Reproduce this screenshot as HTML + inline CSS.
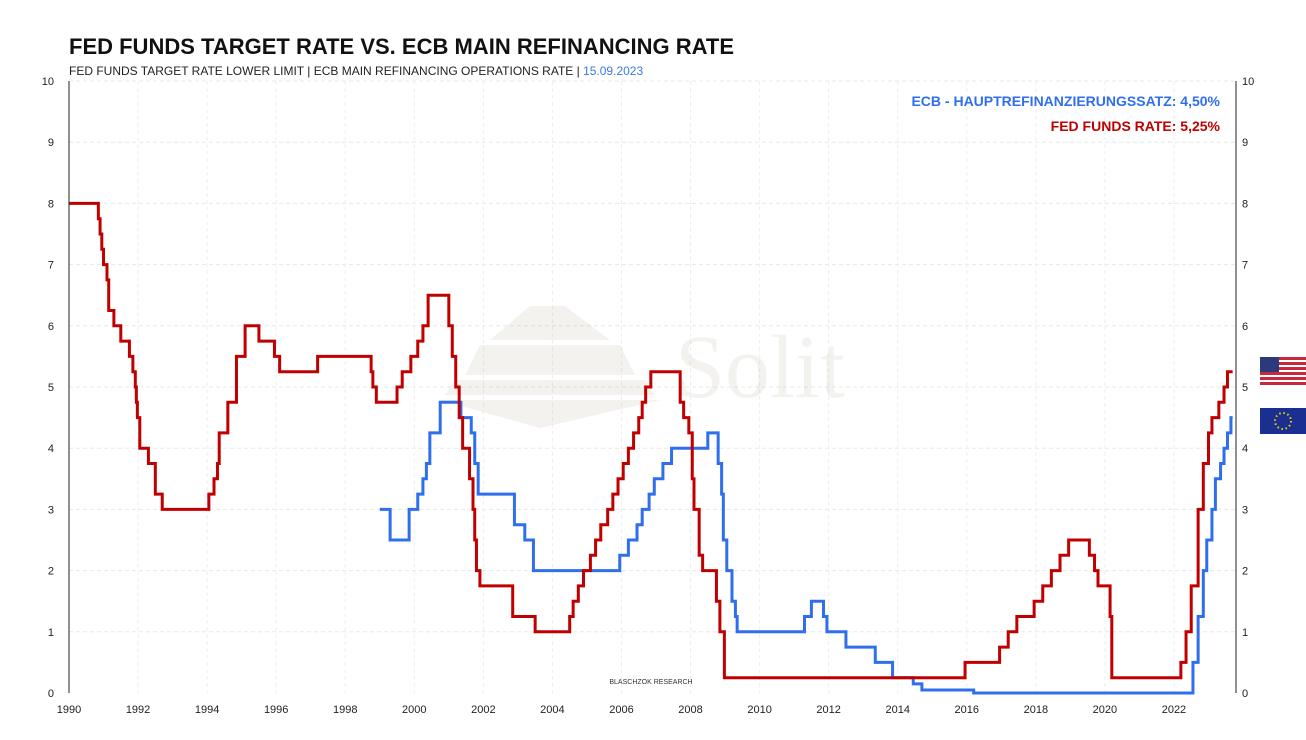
<!DOCTYPE html>
<html><head><meta charset="utf-8"><style>
body{margin:0;background:#fff;width:1306px;height:735px;overflow:hidden;font-family:"Liberation Sans",sans-serif}
</style></head><body>
<svg id="s" width="1306" height="735" xmlns="http://www.w3.org/2000/svg" font-family="Liberation Sans, sans-serif">
<text x="69" y="54" font-size="22" font-weight="bold" fill="#111" textLength="665" lengthAdjust="spacingAndGlyphs">FED FUNDS TARGET RATE  VS.  ECB MAIN REFINANCING RATE</text>
<text x="69" y="75" font-size="12" fill="#222">FED FUNDS TARGET RATE LOWER LIMIT | ECB MAIN REFINANCING OPERATIONS RATE | <tspan fill="#3a7be0">15.09.2023</tspan></text>
<g id="grid"></g>
<g opacity="0.09" fill="#8a7a50">
<polygon points="530,306 565,306 610,340 490,340"/>
<polygon points="480,345 620,345 635,375 465,375"/>
<polygon points="455,380 645,380 655,395 445,395"/>
<polygon points="440,400 660,400 540,428"/>
<text x="675" y="397" font-family="Liberation Serif, serif" font-size="90">Solit</text>
</g>
<text x="1220" y="106" font-size="14" font-weight="bold" fill="#2f6fee" text-anchor="end">ECB - HAUPTREFINANZIERUNGSSATZ: 4,50%</text>
<text x="1220" y="131" font-size="14" font-weight="bold" fill="#c00000" text-anchor="end">FED FUNDS RATE: 5,25%</text>
<text x="651" y="684" font-size="7" fill="#333" text-anchor="middle">BLASCHZOK   RESEARCH</text>
<path id="ecb" fill="none" stroke="#2f6fee" stroke-width="3"/>
<path id="fed" fill="none" stroke="#c00000" stroke-width="3"/>
<line x1="69" y1="81" x2="69" y2="693" stroke="#222"/>
<line x1="1236" y1="81" x2="1236" y2="693" stroke="#222"/>
<g>
<rect x="1260" y="357" width="46" height="28" fill="#fff"/>
<g fill="#c8283c"><rect x="1260" y="357" width="46" height="3"/><rect x="1260" y="362" width="46" height="3"/><rect x="1260" y="367" width="46" height="3"/><rect x="1260" y="372" width="46" height="3"/><rect x="1260" y="377" width="46" height="3"/><rect x="1260" y="382" width="46" height="3"/></g>
<rect x="1260" y="357" width="19" height="15" fill="#2a3a7a"/>
<rect x="1260" y="408" width="46" height="26" fill="#1a2f8f"/>
<circle cx="1283" cy="421" r="8" fill="none" stroke="#f5d000" stroke-width="2" stroke-dasharray="1.5 2.7"/>
</g>
</svg>
<script>
var X=function(y){return 69+(y-1990)*34.53},Y=function(v){return 693-v*61.2};
var g=document.getElementById('grid'),h='';
for(var i=0;i<=10;i++){var y=Y(i);if(i>0)h+='<line x1="69" x2="1236" y1="'+y+'" y2="'+y+'" stroke="#e8e8e8" stroke-dasharray="4 3"/>';
h+='<text x="54" y="'+(y+4)+'" font-size="11" text-anchor="end" fill="#222">'+i+'</text><text x="1242" y="'+(y+4)+'" font-size="11" fill="#222">'+i+'</text>';}
for(var yr=1990;yr<=2022;yr+=2){var x=X(yr);if(yr>1990)h+='<line x1="'+x+'" x2="'+x+'" y1="81" y2="693" stroke="#eee" stroke-dasharray="4 3"/>';
h+='<text x="'+x+'" y="713" font-size="11" text-anchor="middle" fill="#222">'+yr+'</text>';}
g.innerHTML=h;
function path(d,end){var p='M'+X(d[0][0])+','+Y(d[0][1]);for(var i=1;i<d.length;i++){p+='H'+X(d[i][0])+'V'+Y(d[i][1]);}return p+'H'+X(end);}
var fed=[[1990,8],[1990.85,7.75],[1990.9,7.5],[1990.95,7.25],[1991,7],[1991.1,6.75],[1991.15,6.25],[1991.3,6],[1991.5,5.75],[1991.75,5.5],[1991.85,5.25],[1991.92,5],[1991.95,4.75],[1991.98,4.5],[1992.05,4],[1992.3,3.75],[1992.5,3.25],[1992.7,3],[1994.05,3.25],[1994.2,3.5],[1994.3,3.75],[1994.35,4.25],[1994.6,4.75],[1994.85,5.5],[1995.1,6],[1995.5,5.75],[1995.95,5.5],[1996.1,5.25],[1997.2,5.5],[1998.75,5.25],[1998.8,5],[1998.9,4.75],[1999.5,5],[1999.65,5.25],[1999.9,5.5],[2000.1,5.75],[2000.25,6],[2000.4,6.5],[2001,6],[2001.1,5.5],[2001.2,5],[2001.3,4.5],[2001.4,4],[2001.6,3.5],[2001.7,3],[2001.75,2.5],[2001.8,2],[2001.9,1.75],[2002.85,1.25],[2003.5,1],[2004.5,1.25],[2004.6,1.5],[2004.75,1.75],[2004.9,2],[2005.1,2.25],[2005.25,2.5],[2005.4,2.75],[2005.6,3],[2005.75,3.25],[2005.9,3.5],[2006.05,3.75],[2006.2,4],[2006.35,4.25],[2006.5,4.5],[2006.6,4.75],[2006.7,5],[2006.85,5.25],[2007.7,4.75],[2007.8,4.5],[2007.95,4.25],[2008.05,3.5],[2008.1,3],[2008.25,2.25],[2008.35,2],[2008.75,1.5],[2008.85,1],[2008.98,0.25],[2015.95,0.5],[2016.95,0.75],[2017.2,1],[2017.45,1.25],[2017.95,1.5],[2018.2,1.75],[2018.45,2],[2018.7,2.25],[2018.95,2.5],[2019.55,2.25],[2019.7,2],[2019.8,1.75],[2020.15,1.25],[2020.2,0.25],[2022.2,0.5],[2022.35,1],[2022.5,1.75],[2022.7,3],[2022.85,3.75],[2023,4.25],[2023.1,4.5],[2023.3,4.75],[2023.45,5],[2023.55,5.25]];
var ecb=[[1999,3],[1999.3,2.5],[1999.85,3],[2000.1,3.25],[2000.25,3.5],[2000.35,3.75],[2000.45,4.25],[2000.75,4.75],[2001.35,4.5],[2001.65,4.25],[2001.75,3.75],[2001.85,3.25],[2002.9,2.75],[2003.2,2.5],[2003.45,2],[2005.95,2.25],[2006.2,2.5],[2006.45,2.75],[2006.6,3],[2006.8,3.25],[2006.95,3.5],[2007.2,3.75],[2007.45,4],[2008.5,4.25],[2008.8,3.75],[2008.9,3.25],[2008.95,2.5],[2009.05,2],[2009.2,1.5],[2009.3,1.25],[2009.35,1],[2011.3,1.25],[2011.5,1.5],[2011.85,1.25],[2011.95,1],[2012.5,0.75],[2013.35,0.5],[2013.85,0.25],[2014.45,0.15],[2014.7,0.05],[2016.2,0],[2022.55,0.5],[2022.7,1.25],[2022.85,2],[2022.95,2.5],[2023.1,3],[2023.2,3.5],[2023.35,3.75],[2023.45,4],[2023.55,4.25],[2023.65,4.5]];
document.getElementById('fed').setAttribute('d',path(fed,2023.7));
document.getElementById('ecb').setAttribute('d',path(ecb,2023.7));
</script>
</body></html>
